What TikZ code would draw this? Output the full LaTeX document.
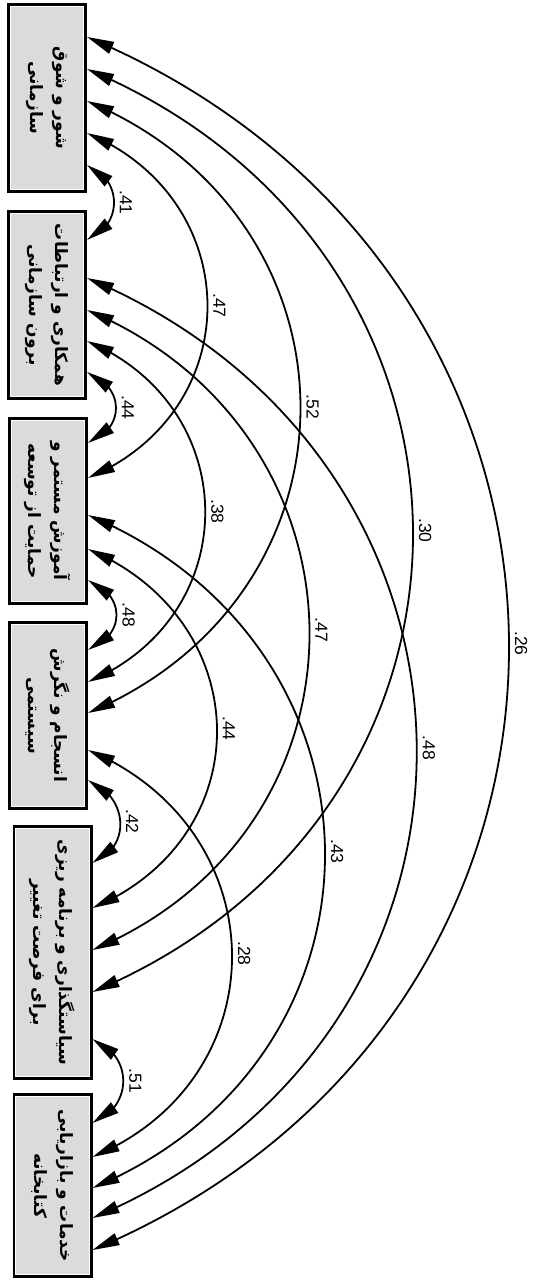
\documentclass[tikz,border=0pt]{standalone}
\usepackage{fontspec}
\usepackage{graphicx}
\usetikzlibrary{arrows.meta,bending,calc}
\TeXXeTstate=1
\newfontfamily\fa[Script=Arabic]{DejaVu Sans}
\newfontfamily\lblfont{Liberation Sans}
\tikzset{
 box/.style={draw=black, line width=2.6pt, fill=black!14, inner sep=0pt, minimum width=77.4pt, minimum height=#1},
 inbox/.style={draw=white, line width=0.8pt},
 boxtxt/.style={rotate=-90, align=center, font=\fa\bfseries\fontsize{17}{26}\selectfont, inner sep=0pt},
 corr/.style={line width=1.8pt, {Triangle[length=27pt,width=12.5pt]}-{Triangle[length=27pt,width=12.5pt]}},
 lbl/.style={pos=0.5, anchor=south, rotate=-90, inner sep=5pt, font=\lblfont\fontsize{17.5}{17.5}\selectfont},
}
\newcommand\corrarc[5]{\draw[corr] (#1) .. controls +(#3,#4) and +(#3,-#4) .. (#2) node[lbl]{#5};}
\begin{document}
\begin{tikzpicture}[x=1pt,y=-1pt]
\useasboundingbox (0,0) rectangle (539,1281);
% boxes
\node[box=187.4pt] (b1) at (47,98) {};
\node[box=187.4pt] (b2) at (47,305) {};
\node[box=185.4pt] (b3) at (48,511) {};
\node[box=186.4pt] (b4) at (48,715.5) {};
\node[box=252.4pt] (b5) at (52.5,952.5) {};
\node[box=182.4pt] (b6) at (52.5,1185.5) {};
\foreach \b in {b1,b2,b3,b4,b5,b6}
  \draw[inbox] ([shift={(3.2,3.2)}]\b.north west) rectangle ([shift={(-3.2,-3.2)}]\b.south east);
% texts
\node[boxtxt] (t1) at (b1.center) {\beginR شور و شوق\endR\\\beginR سازمانی\endR};
\node[boxtxt] (t2) at (b2.center) {\beginR همکاری و ارتباطات\endR\\\beginR برون سازمانی\endR};
\node[boxtxt] (t3) at (b3.center) {\beginR آموزش مستمر و\endR\\\beginR حمایت از توسعه\endR};
\node[boxtxt] (t4) at (b4.center) {\beginR انسجام و نگرش\endR\\\beginR سیستمی\endR};
\node[boxtxt] (t5) at (b5.center) {\beginR سیاستگذاری و برنامه ریزی\endR\\\beginR برای فرصت تغییر\endR};
\node[boxtxt] (t6) at (b6.center) {\beginR خدمات و بازاریابی\endR\\\beginR کتابخانه\endR};
% connector ends
\coordinate (c16) at ([yshift=-34pt]b1.north east);
\coordinate (c15) at ([yshift=-66pt]b1.north east);
\coordinate (c14) at ([yshift=-98pt]b1.north east);
\coordinate (c13) at ([yshift=-130pt]b1.north east);
\coordinate (c12) at ([yshift=-162pt]b1.north east);
\coordinate (c21) at ([yshift=-30pt]b2.north east);
\coordinate (c26) at ([yshift=-68pt]b2.north east);
\coordinate (c25) at ([yshift=-100pt]b2.north east);
\coordinate (c24) at ([yshift=-131pt]b2.north east);
\coordinate (c23) at ([yshift=-162pt]b2.north east);
\coordinate (c32) at ([yshift=-26pt]b3.north east);
\coordinate (c31) at ([yshift=-61pt]b3.north east);
\coordinate (c36) at ([yshift=-98pt]b3.north east);
\coordinate (c35) at ([yshift=-132pt]b3.north east);
\coordinate (c34) at ([yshift=-163pt]b3.north east);
\coordinate (c43) at ([yshift=-29pt]b4.north east);
\coordinate (c42) at ([yshift=-61pt]b4.north east);
\coordinate (c41) at ([yshift=-92pt]b4.north east);
\coordinate (c46) at ([yshift=-129pt]b4.north east);
\coordinate (c45) at ([yshift=-159pt]b4.north east);
\coordinate (c54) at ([yshift=-38pt]b5.north east);
\coordinate (c53) at ([yshift=-83pt]b5.north east);
\coordinate (c52) at ([yshift=-125pt]b5.north east);
\coordinate (c51) at ([yshift=-167pt]b5.north east);
\coordinate (c56) at ([yshift=-214pt]b5.north east);
\coordinate (c65) at ([yshift=-30pt]b6.north east);
\coordinate (c64) at ([yshift=-64pt]b6.north east);
\coordinate (c63) at ([yshift=-95pt]b6.north east);
\coordinate (c62) at ([yshift=-125pt]b6.north east);
\coordinate (c61) at ([yshift=-157pt]b6.north east);
% correlations
\corrarc{c12}{c21}{36}{14}{.41}
\corrarc{c23}{c32}{38}{15}{.44}
\corrarc{c34}{c43}{38}{15}{.48}
\corrarc{c45}{c54}{40}{16}{.42}
\corrarc{c56}{c65}{41}{16}{.51}
\corrarc{c13}{c31}{160}{67}{.47}
\corrarc{c24}{c42}{157}{66}{.38}
\corrarc{c35}{c53}{169}{71}{.44}
\corrarc{c46}{c64}{189}{79}{.28}
\corrarc{c14}{c41}{284}{119}{.52}
\corrarc{c25}{c52}{293}{123}{.47}
\corrarc{c36}{c63}{313}{131}{.43}
\corrarc{c15}{c51}{431}{181}{.30}
\corrarc{c26}{c62}{436}{183}{.48}
\corrarc{c16}{c61}{559}{235}{.26}
\end{tikzpicture}
\end{document}
